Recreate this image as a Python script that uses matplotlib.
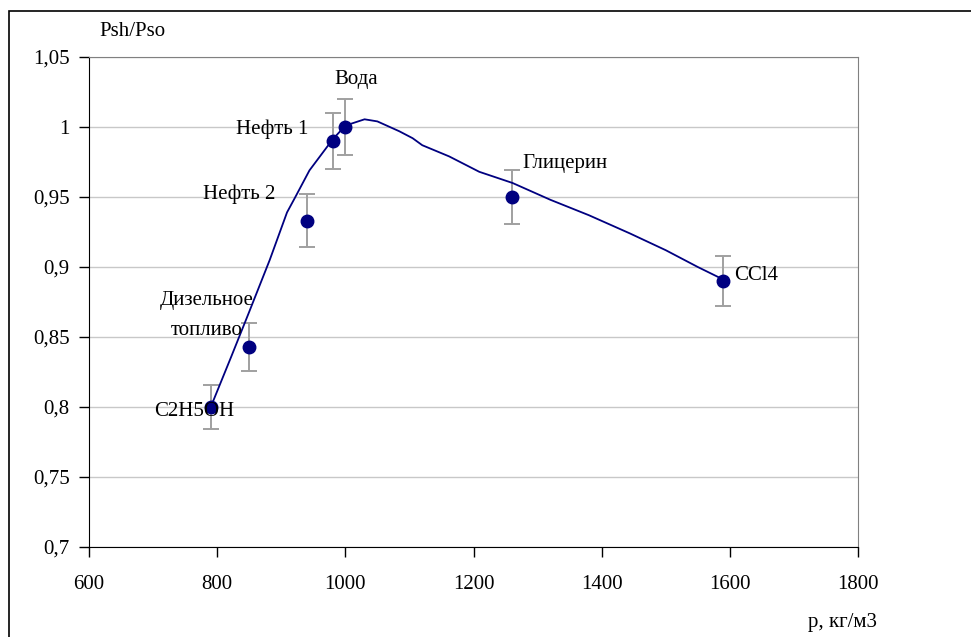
import matplotlib.pyplot as plt
from matplotlib.patches import Rectangle
from matplotlib.ticker import FuncFormatter

plt.rcParams['font.family'] = ['Liberation Serif', 'DejaVu Serif']

# measured points
names = ['C2H5OH', 'Дизельное\nтопливо', 'Нефть 2', 'Нефть 1', 'Вода', 'Глицерин', 'CCl4']
density = [790, 850, 940, 980, 1000, 1260, 1590]
ratio = [0.800, 0.843, 0.933, 0.990, 1.000, 0.950, 0.890]
err = [0.016, 0.017, 0.019, 0.020, 0.020, 0.019, 0.018]

# smoothed curve through the data
curve_x = [790, 822, 850, 882, 909, 922, 944, 962, 980, 1000, 1030, 1050, 1084,
           1105, 1120, 1162, 1209, 1261, 1320, 1380, 1444, 1500, 1550, 1590]
curve_y = [0.800, 0.836, 0.868, 0.905, 0.939, 0.950, 0.969, 0.980, 0.991, 1.001,
           1.0055, 1.004, 0.997, 0.992, 0.987, 0.979, 0.968, 0.960, 0.948, 0.937,
           0.924, 0.912, 0.900, 0.891]

# label positions (x, y, alignment)
label_pos = [(764, 0.7965, 'center'), (783, 0.8655, 'center'), (834, 0.952, 'center'),
             (886, 0.9986, 'center'), (1017, 1.034, 'center'), (1342, 0.974, 'center'),
             (1607, 0.894, 'left')]

fig = plt.figure(figsize=(9.71, 6.37), dpi=100)
ax = fig.add_axes([89 / 971, 1 - 547 / 637, 769 / 971, 490 / 637])

ax.plot(curve_x, curve_y, color='#000080', lw=1.3, zorder=3)
ax.errorbar(density, ratio, yerr=err, fmt='none', ecolor='#a0a0a0',
            elinewidth=1.4, capsize=5.5, capthick=1.4, zorder=2)
ax.plot(density, ratio, 'o', color='#000080', markersize=9, zorder=4)

for name, (lx, ly, ha) in zip(names, label_pos):
    ax.text(lx, ly, name, ha=ha, va='center', fontsize=15, linespacing=1.75, zorder=5)

ax.set_xlim(600, 1800)
ax.set_ylim(0.7, 1.05)
ax.set_xticks(range(600, 1801, 200))
ax.set_yticks([0.7, 0.75, 0.8, 0.85, 0.9, 0.95, 1.0, 1.05])
ax.yaxis.set_major_formatter(FuncFormatter(lambda v, p: ('%g' % round(v, 2)).replace('.', ',')))
ax.grid(axis='y', color='#c8c8c8', lw=1)
ax.set_axisbelow(True)
ax.tick_params(direction='out', length=7, width=1, labelsize=15, color='#000000')
ax.tick_params(axis='x', pad=13)
ax.tick_params(axis='y', pad=7)

for s in ['left', 'bottom']:
    ax.spines[s].set_color('#000000')
for s in ['top', 'right']:
    ax.spines[s].set_color('#808080')

fig.text(132 / 971, 1 - 31 / 637, 'Psh/Pso', fontsize=15, ha='center', va='center')
fig.text(843 / 971, 1 - 623 / 637, 'p, кг/м3', fontsize=15, ha='center', va='center')

# outer chart frame
fig.patches.append(Rectangle((8.5 / 971, -0.1), 1.2, 1 - 10.5 / 637 + 0.1,
                             transform=fig.transFigure, fill=False,
                             edgecolor='#000000', lw=1.2, clip_on=False))

fig.savefig('out.png', dpi=100)
